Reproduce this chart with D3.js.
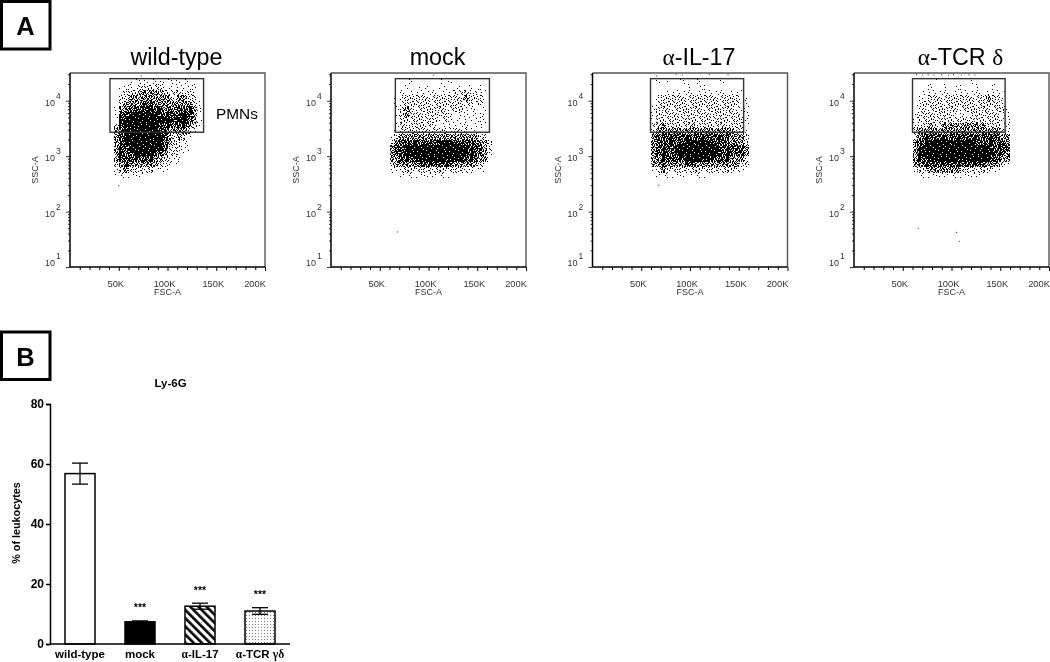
<!DOCTYPE html>
<html>
<head>
<meta charset="utf-8">
<script src="https://cdn.jsdelivr.net/npm/d3@7"></script>
<style>
  body { margin: 0; background: #fff; }
  svg { display: block; font-family: "Liberation Sans", Arial, sans-serif; filter: blur(0.35px); }
  .greek { font-family: "Liberation Serif", serif; }
</style>
</head>
<body>
<svg id="fig" width="1050" height="662"></svg>
<script>
/* ============================
   Data
============================ */

// density of events, rows run from SSC 10^4.4 downwards in 0.1 decade steps,
// columns in 5K steps of FSC. 0 = empty, 5 = nearly solid
const wildTypeDensity = [
  "000111111111111100",
  "011112222211111110",
  "012223333322222210",
  "022333333333233220",
  "023333443333333321",
  "133444454434344431",
  "144555555444445431",
  "145555555555455431",
  "245555555444444321",
  "345555555443333210",
  "345555555543232100",
  "345555555543221100",
  "344555555542221100",
  "344455554432211000",
  "344444443322110000",
  "234333333221100000",
  "123222221110000000",
  "111111010000000000"
];
const mockDensity = [
  "000010000010100000000",
  "000100110011011010100",
  "001111111111122222110",
  "011222222222222322210",
  "012222222222222221210",
  "012322222222222111110",
  "012322222222111111110",
  "012222222212111111110",
  "012222222111111111110",
  "012222222222122211100",
  "123333333333333333220",
  "234444444455544444332",
  "344555555555555544432",
  "344555555555555544432",
  "334445555555555444331",
  "233333444444433333210",
  "112222222222222211110",
  "001111111111100000000"
];
const il17Density = [
  "010100100100001000000",
  "000000010010000000000",
  "001111111111111111100",
  "012222222222222222110",
  "122222222222222222110",
  "122222222222222222110",
  "122222222222222222110",
  "122222222222222222210",
  "223222223222222222210",
  "233333333333333332210",
  "344444444444444433320",
  "344444455555444433320",
  "344445555555554444430",
  "344445555555554444430",
  "334444455555444433320",
  "334333344333333333220",
  "123222222222222222100",
  "011111101110000100000"
];
const tcrDensity = [
  "000010000000100000000",
  "000100100100010010000",
  "001111111111111111100",
  "011222222222222322100",
  "012222222222222222110",
  "012222222222222222210",
  "122222221111222222110",
  "122222222222222222110",
  "122322333333333222110",
  "233333333333333333220",
  "234444444444444444330",
  "344555555555544444430",
  "345555555555555544440",
  "345555555555555554430",
  "344555555555555544330",
  "334444444444444333210",
  "122333333322222211000",
  "011111111111110000000"
];

// single events outside the clouds [FSC, SSC]
const wildTypeStray = [[73000, 28000], [50000, 295]];
const mockStray = [[68000, 43], [105000, 29000]];
const il17Stray = [[68000, 300], [66000, 28000], [86000, 30000], [92000, 29000], [120000, 30000], [139000, 29500]];
const tcrStray = [[66000, 50], [105000, 42], [108000, 29], [64000, 29500], [70000, 29000], [76000, 29500], [82000, 29000],
  [90000, 29500], [97000, 29000], [102000, 29500], [110000, 29000], [118000, 29500], [124000, 29000]];

const panelTitles = ["wild-type", "mock", "α-IL-17", "α-TCR δ"];
const panelLefts = [70, 331, 592.5, 854];
const fscStarts = [45000, 60000, 60000, 60000];
const gateFsc = [[41000, 137000], [66000, 162500], [59500, 155000], [60000, 155000]];
const gateSsc = [2700, 25000];

const fscLabelTicks = [50000, 100000, 150000, 200000];
const fscMinorTicks = d3.range(10000, 200001, 10000);
const sscLabelTicks = [10, 100, 1000, 10000];
const sscMinorTicks = [20, 30, 40, 50, 60, 70, 80, 90, 200, 300, 400, 500, 600, 700, 800, 900,
  2000, 3000, 4000, 5000, 6000, 7000, 8000, 9000, 20000, 30000];

const barGroups = ["wild-type", "mock", "α-IL-17", "α-TCR γδ"];
const barValues = [56.8, 7.4, 12.6, 11.0];
const barErrors = [3.5, 0.3, 1.0, 1.1];
const barStars = ["", "***", "***", "***"];
const barFills = ["#fff", "#000", "url(#hatch)", "url(#speckle)"];
const percentTicks = [0, 20, 40, 60, 80];

/* ============================
   Stipple fills for the clouds
============================ */

const svg = d3.select("#fig");
const defs = svg.append("defs");

const stippleTile = [
  "3a07d1f52c8e6b49",
  "e5b294c07fa1d368",
  "18fd36ae5b09c274",
  "c7406b1e92d3fa85",
  "2e95d8f370ac164b",
  "a13c47b06e5d82f9",
  "6f08e2959c1b47d3",
  "d4b71a3cf6082e5a",
  "08e36fd52a9b4c17",
  "9c52b1708de3f6a4",
  "4a1f8e36c57d029b",
  "e7d06c92b41fa835",
  "35a9f1480d6e7c2b",
  "b86d2e7ca3915f04",
  "1f47c05b68e2d39a",
  "7c93ead20f4b6185"
];
const levelCuts = [0, 1, 3, 8, 12, 15];

d3.range(1, 6).forEach(level => {
  const pat = defs.append("pattern")
    .attr("id", "stipple" + level)
    .attr("patternUnits", "userSpaceOnUse")
    .attr("width", 32)
    .attr("height", 32);
  // the tile is shifted per quadrant so the repeat shows less
  d3.range(32).forEach(j => {
    d3.range(32).forEach(i => {
      const row = stippleTile[(j + 5 * Math.floor(i / 16)) % 16];
      const c = row[(i + 7 * Math.floor(j / 16)) % 16];
      if (parseInt(c, 16) < levelCuts[level]) {
        pat.append("rect")
          .attr("x", i).attr("y", j)
          .attr("width", 1).attr("height", 1)
          .attr("fill", "#000");
      }
    });
  });
});

const hatch = defs.append("pattern")
  .attr("id", "hatch")
  .attr("patternUnits", "userSpaceOnUse")
  .attr("width", 5.8)
  .attr("height", 5.8)
  .attr("patternTransform", "rotate(-45)");
hatch.append("rect").attr("width", 5.8).attr("height", 5.8).attr("fill", "#fff");
hatch.append("rect").attr("width", 2.6).attr("height", 5.8).attr("fill", "#000");

const speckle = defs.append("pattern")
  .attr("id", "speckle")
  .attr("patternUnits", "userSpaceOnUse")
  .attr("width", 3)
  .attr("height", 3);
speckle.append("rect").attr("width", 3).attr("height", 3).attr("fill", "#fff");
speckle.append("rect").attr("width", 1).attr("height", 1).attr("fill", "#777");

/* ============================
   Helpers
============================ */

// write a label, the greek letters get the serif face
function greekText(sel, label) {
  label.split(/([αγδ]+)/).filter(s => s).forEach(part => {
    sel.append("tspan")
      .attr("class", /[αγδ]/.test(part) ? "greek" : null)
      .text(part);
  });
}

function panelBox(y, letter) {
  svg.append("rect")
    .attr("x", 1.5).attr("y", y)
    .attr("width", 48.5).attr("height", 47.5)
    .attr("fill", "#fff").attr("stroke", "#000").attr("stroke-width", 3);
  svg.append("text")
    .attr("x", 25.5).attr("y", y + 33.5)
    .attr("text-anchor", "middle")
    .attr("font-size", 25.5)
    .attr("font-weight", "bold")
    .text(letter);
}

/* ============================
   A: scatter panels
============================ */

function renderFlowPanel(i, density, stray) {
  const left = panelLefts[i];
  const x = d3.scaleLinear().domain([0, 200000]).range([left, left + 195]);
  const y = d3.scaleLog().domain([10, 31623]).range([267, 73]);

  const cells = [];
  density.forEach((row, r) => {
    row.split("").forEach((c, col) => {
      if (c !== "0") cells.push({ r, col, level: +c });
    });
  });

  const g = svg.append("g");

  g.append("g")
    .attr("shape-rendering", "crispEdges")
    .selectAll("rect")
    .data(cells)
    .enter()
    .append("rect")
    .attr("x", d => x(fscStarts[i] + d.col * 5000))
    .attr("y", d => y(Math.pow(10, 4.4 - d.r * 0.1)))
    .attr("width", d => x(fscStarts[i] + (d.col + 1) * 5000) - x(fscStarts[i] + d.col * 5000))
    .attr("height", d => y(Math.pow(10, 4.3 - d.r * 0.1)) - y(Math.pow(10, 4.4 - d.r * 0.1)))
    .attr("fill", d => `url(#stipple${d.level})`);

  g.append("g").selectAll("circle")
    .data(stray)
    .enter()
    .append("circle")
    .attr("cx", d => x(d[0]))
    .attr("cy", d => y(d[1]))
    .attr("r", 0.6)
    .attr("fill", "#333");

  // frame, top and right are lighter in the original
  g.append("path")
    .attr("d", `M${x(0)},${y(31623)}H${x(200000)}V${y(10)}`)
    .attr("fill", "none").attr("stroke", "#555").attr("stroke-width", 1.4);

  // gate
  g.append("rect")
    .attr("x", x(gateFsc[i][0]))
    .attr("y", y(gateSsc[1]))
    .attr("width", x(gateFsc[i][1]) - x(gateFsc[i][0]))
    .attr("height", y(gateSsc[0]) - y(gateSsc[1]))
    .attr("fill", "none").attr("stroke", "#333").attr("stroke-width", 1.4);

  // axes
  const xAxis = g.append("g").attr("transform", "translate(0,267)");
  xAxis.call(d3.axisBottom(x).tickValues(fscMinorTicks).tickSize(-3).tickFormat(""));
  xAxis.select(".domain").attr("d", `M${x(0)},0H${x(200000)}`).attr("stroke-width", 1.5);
  xAxis.selectAll(".tick line")
    .attr("y2", d => fscLabelTicks.includes(d) ? 4 : 3)
    .attr("stroke-width", 1);

  g.append("g").selectAll("text")
    .data(fscLabelTicks)
    .enter()
    .append("text")
    .attr("x", d => x(d) - (d === 200000 ? 10 : 3))
    .attr("y", 287)
    .attr("text-anchor", "middle")
    .attr("font-size", 9.3)
    .attr("fill", "#333")
    .text(d => (d / 1000) + "K");

  const yAxis = g.append("g").attr("transform", `translate(${left},0)`);
  yAxis.call(d3.axisLeft(y).tickValues(sscLabelTicks.concat(sscMinorTicks)).tickSize(2).tickFormat(""));
  yAxis.select(".domain").attr("d", "M0,73V267").attr("stroke-width", 1.5);
  yAxis.selectAll(".tick line")
    .attr("x2", d => sscLabelTicks.includes(d) ? -4 : -2)
    .attr("stroke-width", 0.8);

  const yLabels = g.append("g").selectAll("text")
    .data(sscLabelTicks)
    .enter()
    .append("text")
    .attr("x", left - 25)
    .attr("y", d => y(d) + (d === 10 ? -1 : 5))
    .attr("font-size", 9)
    .attr("fill", "#333");
  yLabels.append("tspan").text("10");
  yLabels.append("tspan")
    .attr("dx", 1).attr("dy", -7)
    .attr("font-size", 8.5)
    .text(d => Math.round(Math.log10(d)));

  g.append("text")
    .attr("x", x(100000)).attr("y", 295)
    .attr("text-anchor", "middle")
    .attr("font-size", 9).attr("fill", "#333")
    .text("FSC-A");
  g.append("text")
    .attr("transform", `translate(${left - 32},170) rotate(-90)`)
    .attr("text-anchor", "middle")
    .attr("font-size", 9).attr("fill", "#333")
    .text("SSC-A");

  const title = g.append("text")
    .attr("x", x(100000) + 9)
    .attr("y", 65)
    .attr("text-anchor", "middle")
    .attr("font-size", 23.3);
  greekText(title, panelTitles[i]);
}

/* ============================
   B: bar chart
============================ */

function renderBars() {
  const x = d3.scaleBand()
    .domain(barGroups)
    .range([50, 290])
    .paddingInner(0.5)
    .paddingOuter(0.25);
  const y = d3.scaleLinear().domain([0, 80]).range([644, 404]);

  const rows = barGroups.map((group, i) => ({
    group,
    value: barValues[i],
    err: barErrors[i],
    stars: barStars[i],
    fill: barFills[i]
  }));
  const mid = d => x(d.group) + x.bandwidth() / 2;

  svg.selectAll("rect.bar")
    .data(rows)
    .enter()
    .append("rect")
    .attr("class", "bar")
    .attr("x", d => x(d.group))
    .attr("y", d => y(d.value))
    .attr("width", x.bandwidth())
    .attr("height", d => y(0) - y(d.value))
    .attr("fill", d => d.fill)
    .attr("stroke", "#000")
    .attr("stroke-width", 1.5);

  const err = svg.selectAll("g.err")
    .data(rows)
    .enter()
    .append("g")
    .attr("class", "err")
    .attr("stroke", "#000")
    .attr("stroke-width", 1.3);
  err.append("line")
    .attr("x1", mid).attr("x2", mid)
    .attr("y1", d => y(d.value - d.err))
    .attr("y2", d => y(d.value + d.err));
  [1, -1].forEach(sign => {
    err.append("line")
      .attr("x1", d => mid(d) - 8).attr("x2", d => mid(d) + 8)
      .attr("y1", d => y(d.value + sign * d.err))
      .attr("y2", d => y(d.value + sign * d.err));
  });

  svg.selectAll("text.stars")
    .data(rows)
    .enter()
    .append("text")
    .attr("class", "stars")
    .attr("x", mid)
    .attr("y", d => y(d.value + d.err) - 9.5)
    .attr("text-anchor", "middle")
    .attr("font-size", 10.5)
    .attr("font-weight", "bold")
    .text(d => d.stars);

  const yAxis = svg.append("g").attr("transform", "translate(50,0)")
    .call(d3.axisLeft(y).tickValues(percentTicks).tickSize(4).tickPadding(2));
  yAxis.select(".domain").attr("stroke-width", 1.5);
  yAxis.selectAll(".tick line").attr("stroke-width", 1.5);
  yAxis.selectAll("text")
    .attr("font-family", "Liberation Sans")
    .attr("font-size", 12)
    .attr("font-weight", "bold");

  const xAxis = svg.append("g").attr("transform", "translate(0,644)")
    .call(d3.axisBottom(x).tickSize(0).tickFormat(""));
  xAxis.select(".domain").attr("stroke-width", 1.5).attr("d", "M50,0H290");

  svg.selectAll("text.cat")
    .data(rows)
    .enter()
    .append("text")
    .attr("class", "cat")
    .attr("x", mid)
    .attr("y", 658)
    .attr("text-anchor", "middle")
    .attr("font-size", 11.5)
    .attr("font-weight", "bold")
    .each(function (d) { greekText(d3.select(this), d.group); });

  svg.append("text")
    .attr("x", 170.5).attr("y", 387)
    .attr("text-anchor", "middle")
    .attr("font-size", 11.5)
    .attr("font-weight", "bold")
    .text("Ly-6G");

  svg.append("text")
    .attr("transform", "translate(20,523) rotate(-90)")
    .attr("text-anchor", "middle")
    .attr("font-size", 10.8)
    .attr("font-weight", "bold")
    .text("% of leukocytes");
}

/* ============================
   Main
============================ */

panelBox(1.5, "A");
panelBox(332, "B");

renderFlowPanel(0, wildTypeDensity, wildTypeStray);
renderFlowPanel(1, mockDensity, mockStray);
renderFlowPanel(2, il17Density, il17Stray);
renderFlowPanel(3, tcrDensity, tcrStray);

svg.append("text")
  .attr("x", 216).attr("y", 119)
  .attr("font-size", 15.4)
  .text("PMNs");

renderBars();
</script>
</body>
</html>
